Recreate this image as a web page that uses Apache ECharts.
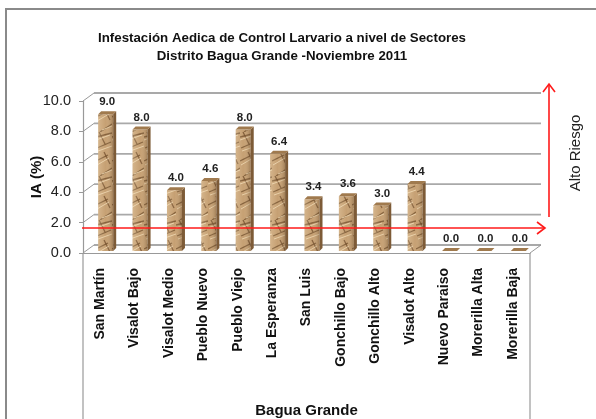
<!DOCTYPE html>
<html>
<head>
<meta charset="utf-8">
<script src="https://cdn.jsdelivr.net/npm/echarts@6/dist/echarts.min.js"></script>
<style>
  html, body { margin: 0; padding: 0; background: #fff; }
  #main { width: 596px; height: 419px; }
</style>
</head>
<body>
<div id="main"></div>
<script>
// datos
var sectores = ['San Martín', 'Visalot Bajo', 'Visalot Medio', 'Pueblo Nuevo', 'Pueblo Viejo',
  'La Esperanza', 'San Luis', 'Gonchillo Bajo', 'Gonchillo Alto', 'Visalot Alto',
  'Nuevo Paraiso', 'Morerilla Alta', 'Morerilla Baja'];
var indiceAedico = [9.0, 8.0, 4.0, 4.6, 8.0, 6.4, 3.4, 3.6, 3.0, 4.4, 0.0, 0.0, 0.0];
var ticksY = [0, 2, 4, 6, 8, 10];

var FONT = 'Liberation Sans, Arial, sans-serif';
var DX = 11, DY = -8; // profundidad 3D del piso

// textura tipo papel arrugado
function textura() {
  var c = document.createElement('canvas');
  c.width = 16; c.height = 44;
  var g = c.getContext('2d');
  g.fillStyle = '#c6a073';
  g.fillRect(0, 0, 16, 44);
  g.strokeStyle = 'rgba(110,75,40,0.75)';
  g.lineWidth = 1.3;
  var pliegues = [[0, 5, 16, 1], [1, 16, 15, 10], [0, 29, 12, 23], [4, 44, 16, 36], [3, 0, 9, 12], [8, 20, 14, 32]];
  pliegues.forEach(function (p) {
    g.beginPath(); g.moveTo(p[0], p[1]); g.lineTo(p[2], p[3]); g.stroke();
  });
  g.strokeStyle = 'rgba(240,218,180,0.8)';
  g.lineWidth = 1;
  var brillos = [[0, 8, 14, 3], [2, 19, 16, 14], [1, 33, 13, 26], [6, 42, 16, 38]];
  brillos.forEach(function (p) {
    g.beginPath(); g.moveTo(p[0], p[1]); g.lineTo(p[2], p[3]); g.stroke();
  });
  return c;
}
var tex = textura();

var chart = echarts.init(document.getElementById('main'), null, { renderer: 'canvas' });

function decorado(params, api) {
  var cs = params.coordSys;
  var x0 = cs.x, x1 = cs.x + cs.width, yb = cs.y + cs.height;
  var kids = [];
  var gris = { stroke: '#a9a9a9', lineWidth: 1.8 };
  ticksY.forEach(function (v) {
    var y = api.coord([0, v])[1];
    kids.push({ type: 'line', shape: { x1: x0 + DX, y1: y + DY, x2: x1 + DX, y2: y + DY }, style: gris });
    kids.push({ type: 'line', shape: { x1: x0, y1: y, x2: x0 + DX, y2: y + DY }, style: { stroke: '#999', lineWidth: 1 } });
  });
  kids.push({ type: 'line', shape: { x1: x1, y1: yb, x2: x1 + DX, y2: yb + DY }, style: { stroke: '#999', lineWidth: 1 } });
  kids.push({ type: 'line', shape: { x1: x0, y1: yb, x2: x0, y2: 419 }, style: { stroke: '#999', lineWidth: 1.2 } });
  kids.push({ type: 'line', shape: { x1: x1, y1: yb, x2: x1, y2: 419 }, style: { stroke: '#999', lineWidth: 1.2 } });
  return { type: 'group', children: kids };
}

function barra3d(params, api) {
  var i = api.value(0), v = api.value(1);
  var base = api.coord([i, 0]);
  var top = api.coord([i, v]);
  var cx = base[0];
  var xl = cx - 2, xr = cx + 13, dd = 3;
  var yb = base[1] - 2, yt = top[1] - 2;
  var kids = [];
  if (yb - yt > 0.5) {
    kids.push({ type: 'rect', shape: { x: xl, y: yt, width: xr - xl, height: yb - yt },
      style: { fill: { image: tex, repeat: 'repeat' } } });
    kids.push({ type: 'rect', shape: { x: xl, y: yt, width: xr - xl, height: yb - yt },
      style: { fill: new echarts.graphic.LinearGradient(0, 0, 1, 0, [
        { offset: 0, color: 'rgba(255,240,210,0.25)' },
        { offset: 0.5, color: 'rgba(255,240,210,0.0)' },
        { offset: 1, color: 'rgba(70,45,20,0.3)' }]) } });
    kids.push({ type: 'polygon', shape: { points: [[xr, yt], [xr + dd, yt - dd], [xr + dd, yb - dd], [xr, yb]] },
      style: { fill: '#7d5b37' } });
  }
  kids.push({ type: 'polygon', shape: { points: [[xl, yt], [xl + dd, yt - dd], [xr + dd, yt - dd], [xr, yt]] },
    style: { fill: '#a07a4e' } });
  kids.push({ type: 'text', x: (xl + xr + dd) / 2, y: yt - dd - 9,
    style: { text: v.toFixed(1), font: 'bold 11.5px ' + FONT, fill: '#222', align: 'center', verticalAlign: 'middle' } });
  return { type: 'group', children: kids };
}

var option = {
  animation: false,
  backgroundColor: '#fff',
  title: {
    text: 'Infestación Aedica de Control Larvario a nivel de Sectores\nDistrito Bagua Grande -Noviembre 2011',
    left: 277,
    top: 24,
    textAlign: 'center',
    textStyle: { fontFamily: FONT, fontSize: 13.3, fontWeight: 'bold', color: '#111', lineHeight: 18 }
  },
  grid: { left: 83, right: 66, top: 101, bottom: 162 },
  xAxis: {
    type: 'category',
    data: sectores,
    name: 'Bagua Grande',
    nameLocation: 'middle',
    nameGap: 150,
    nameTextStyle: { fontFamily: FONT, fontSize: 15, fontWeight: 'bold', color: '#111' },
    axisLine: { lineStyle: { color: '#999', width: 1.2 } },
    axisTick: { show: false },
    axisLabel: { rotate: 90, margin: 15, interval: 0, fontFamily: FONT, fontSize: 14, fontWeight: 'bold', color: '#111' }
  },
  yAxis: {
    type: 'value',
    min: 0, max: 10, interval: 2,
    name: 'IA (%)',
    nameLocation: 'middle',
    nameGap: 39,
    nameMoveOverlap: false,
    nameTextStyle: { fontFamily: FONT, fontSize: 15, fontWeight: 'bold', color: '#111' },
    axisLine: { show: true, lineStyle: { color: '#999', width: 1.2 } },
    axisTick: { show: true, length: 4, lineStyle: { color: '#999' } },
    axisLabel: { margin: 12, fontFamily: FONT, fontSize: 14.5, color: '#222', formatter: function (v) { return v.toFixed(1); } },
    splitLine: { show: false }
  },
  series: [
    { type: 'custom', name: 'decorado', renderItem: decorado, data: [[0, 0]], silent: true, z: 1 },
    { type: 'custom', name: 'IA', renderItem: barra3d, z: 3,
      data: indiceAedico.map(function (v, i) { return [i, v]; }) }
  ],
  graphic: [
    { type: 'rect', shape: { x: 6, y: 9, width: 620, height: 440 }, style: { fill: 'none', stroke: '#8a8a8a', lineWidth: 2 }, z: 10 },
    { type: 'line', shape: { x1: 82, y1: 228, x2: 545, y2: 228 }, style: { stroke: '#ff1a1a', lineWidth: 1.6 }, z: 10 },
    { type: 'polyline', shape: { points: [[537, 222], [545, 228], [537, 234]] }, style: { stroke: '#ff1a1a', lineWidth: 1.6, fill: 'none' }, z: 10 },
    { type: 'line', shape: { x1: 549, y1: 217, x2: 549, y2: 84 }, style: { stroke: '#ff1a1a', lineWidth: 1.6 }, z: 10 },
    { type: 'polyline', shape: { points: [[543, 92], [549, 84], [555, 92]] }, style: { stroke: '#ff1a1a', lineWidth: 1.6, fill: 'none' }, z: 10 },
    { type: 'text', x: 576, y: 153, rotation: Math.PI / 2,
      style: { text: 'Alto Riesgo', font: '15px ' + FONT, fill: '#222', align: 'center', verticalAlign: 'middle' }, z: 10 }
  ]
};
chart.setOption(option);
</script>
</body>
</html>
